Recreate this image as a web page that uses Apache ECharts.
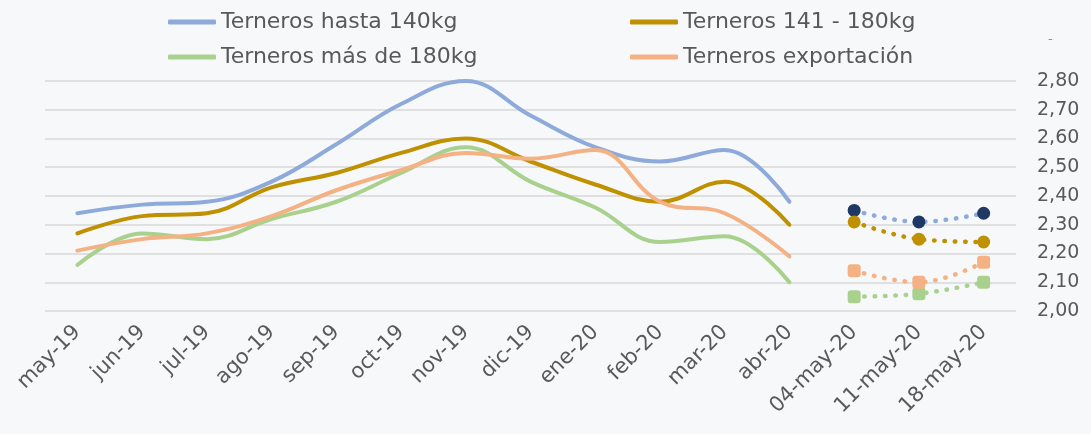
<!DOCTYPE html>
<html>
<head>
<meta charset="utf-8">
<script src="https://cdn.jsdelivr.net/npm/echarts@6/dist/echarts.min.js"></script>
<style>
  html, body { margin: 0; padding: 0; background: #f7f8fa; }
  #chart { width: 1091px; height: 434px; }
</style>
</head>
<body>
<div id="chart"></div>
<script>
// ---- data ----
const categories = ['may-19','jun-19','jul-19','ago-19','sep-19','oct-19','nov-19','dic-19','ene-20','feb-20','mar-20','abr-20','04-may-20','11-may-20','18-may-20'];
const seriesNames = ['Terneros hasta 140kg','Terneros 141 - 180kg','Terneros más de 180kg','Terneros exportación'];
// monthly values (may-19 .. abr-20)
const hasta140Monthly   = [2.34, 2.37, 2.38, 2.45, 2.58, 2.72, 2.80, 2.68, 2.57, 2.52, 2.56, 2.38];
const de141a180Monthly  = [2.27, 2.33, 2.34, 2.43, 2.48, 2.55, 2.60, 2.52, 2.44, 2.38, 2.45, 2.30];
const mas180Monthly     = [2.16, 2.27, 2.25, 2.32, 2.38, 2.48, 2.57, 2.45, 2.36, 2.24, 2.26, 2.10];
const exportMonthly     = [2.21, 2.25, 2.27, 2.33, 2.42, 2.49, 2.55, 2.53, 2.56, 2.38, 2.34, 2.19];
// weekly values (04-may-20, 11-may-20, 18-may-20)
const hasta140Weekly    = [2.35, 2.31, 2.34];
const de141a180Weekly   = [2.31, 2.25, 2.24];
const mas180Weekly      = [2.05, 2.06, 2.10];
const exportWeekly      = [2.14, 2.10, 2.17];
// y-axis ticks
const yMin = 2.0, yMax = 2.8, yStep = 0.1;

// ---- styles ----
const FONT = 'DejaVu Sans';
const TEXT = '#595959';
const lineColors = ['#8eaadb', '#bf9000', '#a9d18e', '#f4b183'];
const markerColors = ['#1f3864', '#bf9000', '#a9d18e', '#f4b183'];
const markerShapes = ['circle', 'circle', 'roundRect', 'roundRect'];

const monthly = [hasta140Monthly, de141a180Monthly, mas180Monthly, exportMonthly];
const weekly = [hasta140Weekly, de141a180Weekly, mas180Weekly, exportWeekly];
const nW = hasta140Weekly.length;
const nM = hasta140Monthly.length;

const series = [];
monthly.forEach((arr, i) => {
  series.push({
    name: seriesNames[i],
    type: 'line',
    data: arr.concat(new Array(nW).fill(null)),
    smooth: 0.4,
    showSymbol: false,
    symbol: 'none',
    lineStyle: { color: lineColors[i], width: 4, cap: 'round', join: 'round' },
    itemStyle: { color: lineColors[i] },
    z: 2
  });
});
weekly.forEach((arr, i) => {
  series.push({
    name: seriesNames[i] + ' (semanal)',
    type: 'line',
    data: new Array(nM).fill(null).concat(arr),
    smooth: 0.4,
    symbol: markerShapes[i],
    symbolSize: 13,
    showSymbol: true,
    lineStyle: { color: lineColors[i], width: 4.5, type: [0.5, 9.8], cap: 'round' },
    itemStyle: { color: markerColors[i] },
    z: 3
  });
});

const legendPos = [
  { left: 168, top: 11 },
  { left: 630, top: 11 },
  { left: 168, top: 46 },
  { left: 630, top: 46 }
];
const legends = seriesNames.map((n, i) => ({
  data: [n],
  left: legendPos[i].left,
  top: legendPos[i].top,
  orient: 'horizontal',
  icon: 'roundRect',
  itemWidth: 48,
  itemHeight: 5,
  padding: 0,
  selectedMode: false,
  textStyle: { fontFamily: FONT, fontSize: 22, color: TEXT }
}));

const chart = echarts.init(document.getElementById('chart'), null, { renderer: 'canvas' });
chart.setOption({
  backgroundColor: '#f7f8fa',
  animation: false,
  legend: legends,
  grid: { left: 45, right: 75, top: 81, bottom: 123, containLabel: false },
  xAxis: {
    type: 'category',
    data: categories,
    boundaryGap: true,
    axisLine: { show: false },
    axisTick: { show: false },
    axisLabel: {
      interval: 0,
      rotate: 45,
      margin: 18,
      fontFamily: FONT,
      fontSize: 21,
      color: TEXT
    }
  },
  yAxis: {
    type: 'value',
    position: 'right',
    min: yMin,
    max: yMax,
    interval: yStep,
    axisLine: { show: false },
    axisTick: { show: false },
    splitLine: { lineStyle: { color: '#d9d9d9', width: 1.5 } },
    axisLabel: {
      margin: 21,
      fontFamily: FONT,
      fontSize: 19,
      color: TEXT,
      formatter: v => v.toFixed(2).replace('.', ',')
    }
  },
  graphic: [{
    type: 'text', left: 1048, top: 33,
    style: { text: '-', fontFamily: FONT, fontSize: 13, fill: '#8c8c8c' }
  }],
  series: series
});
</script>
</body>
</html>
